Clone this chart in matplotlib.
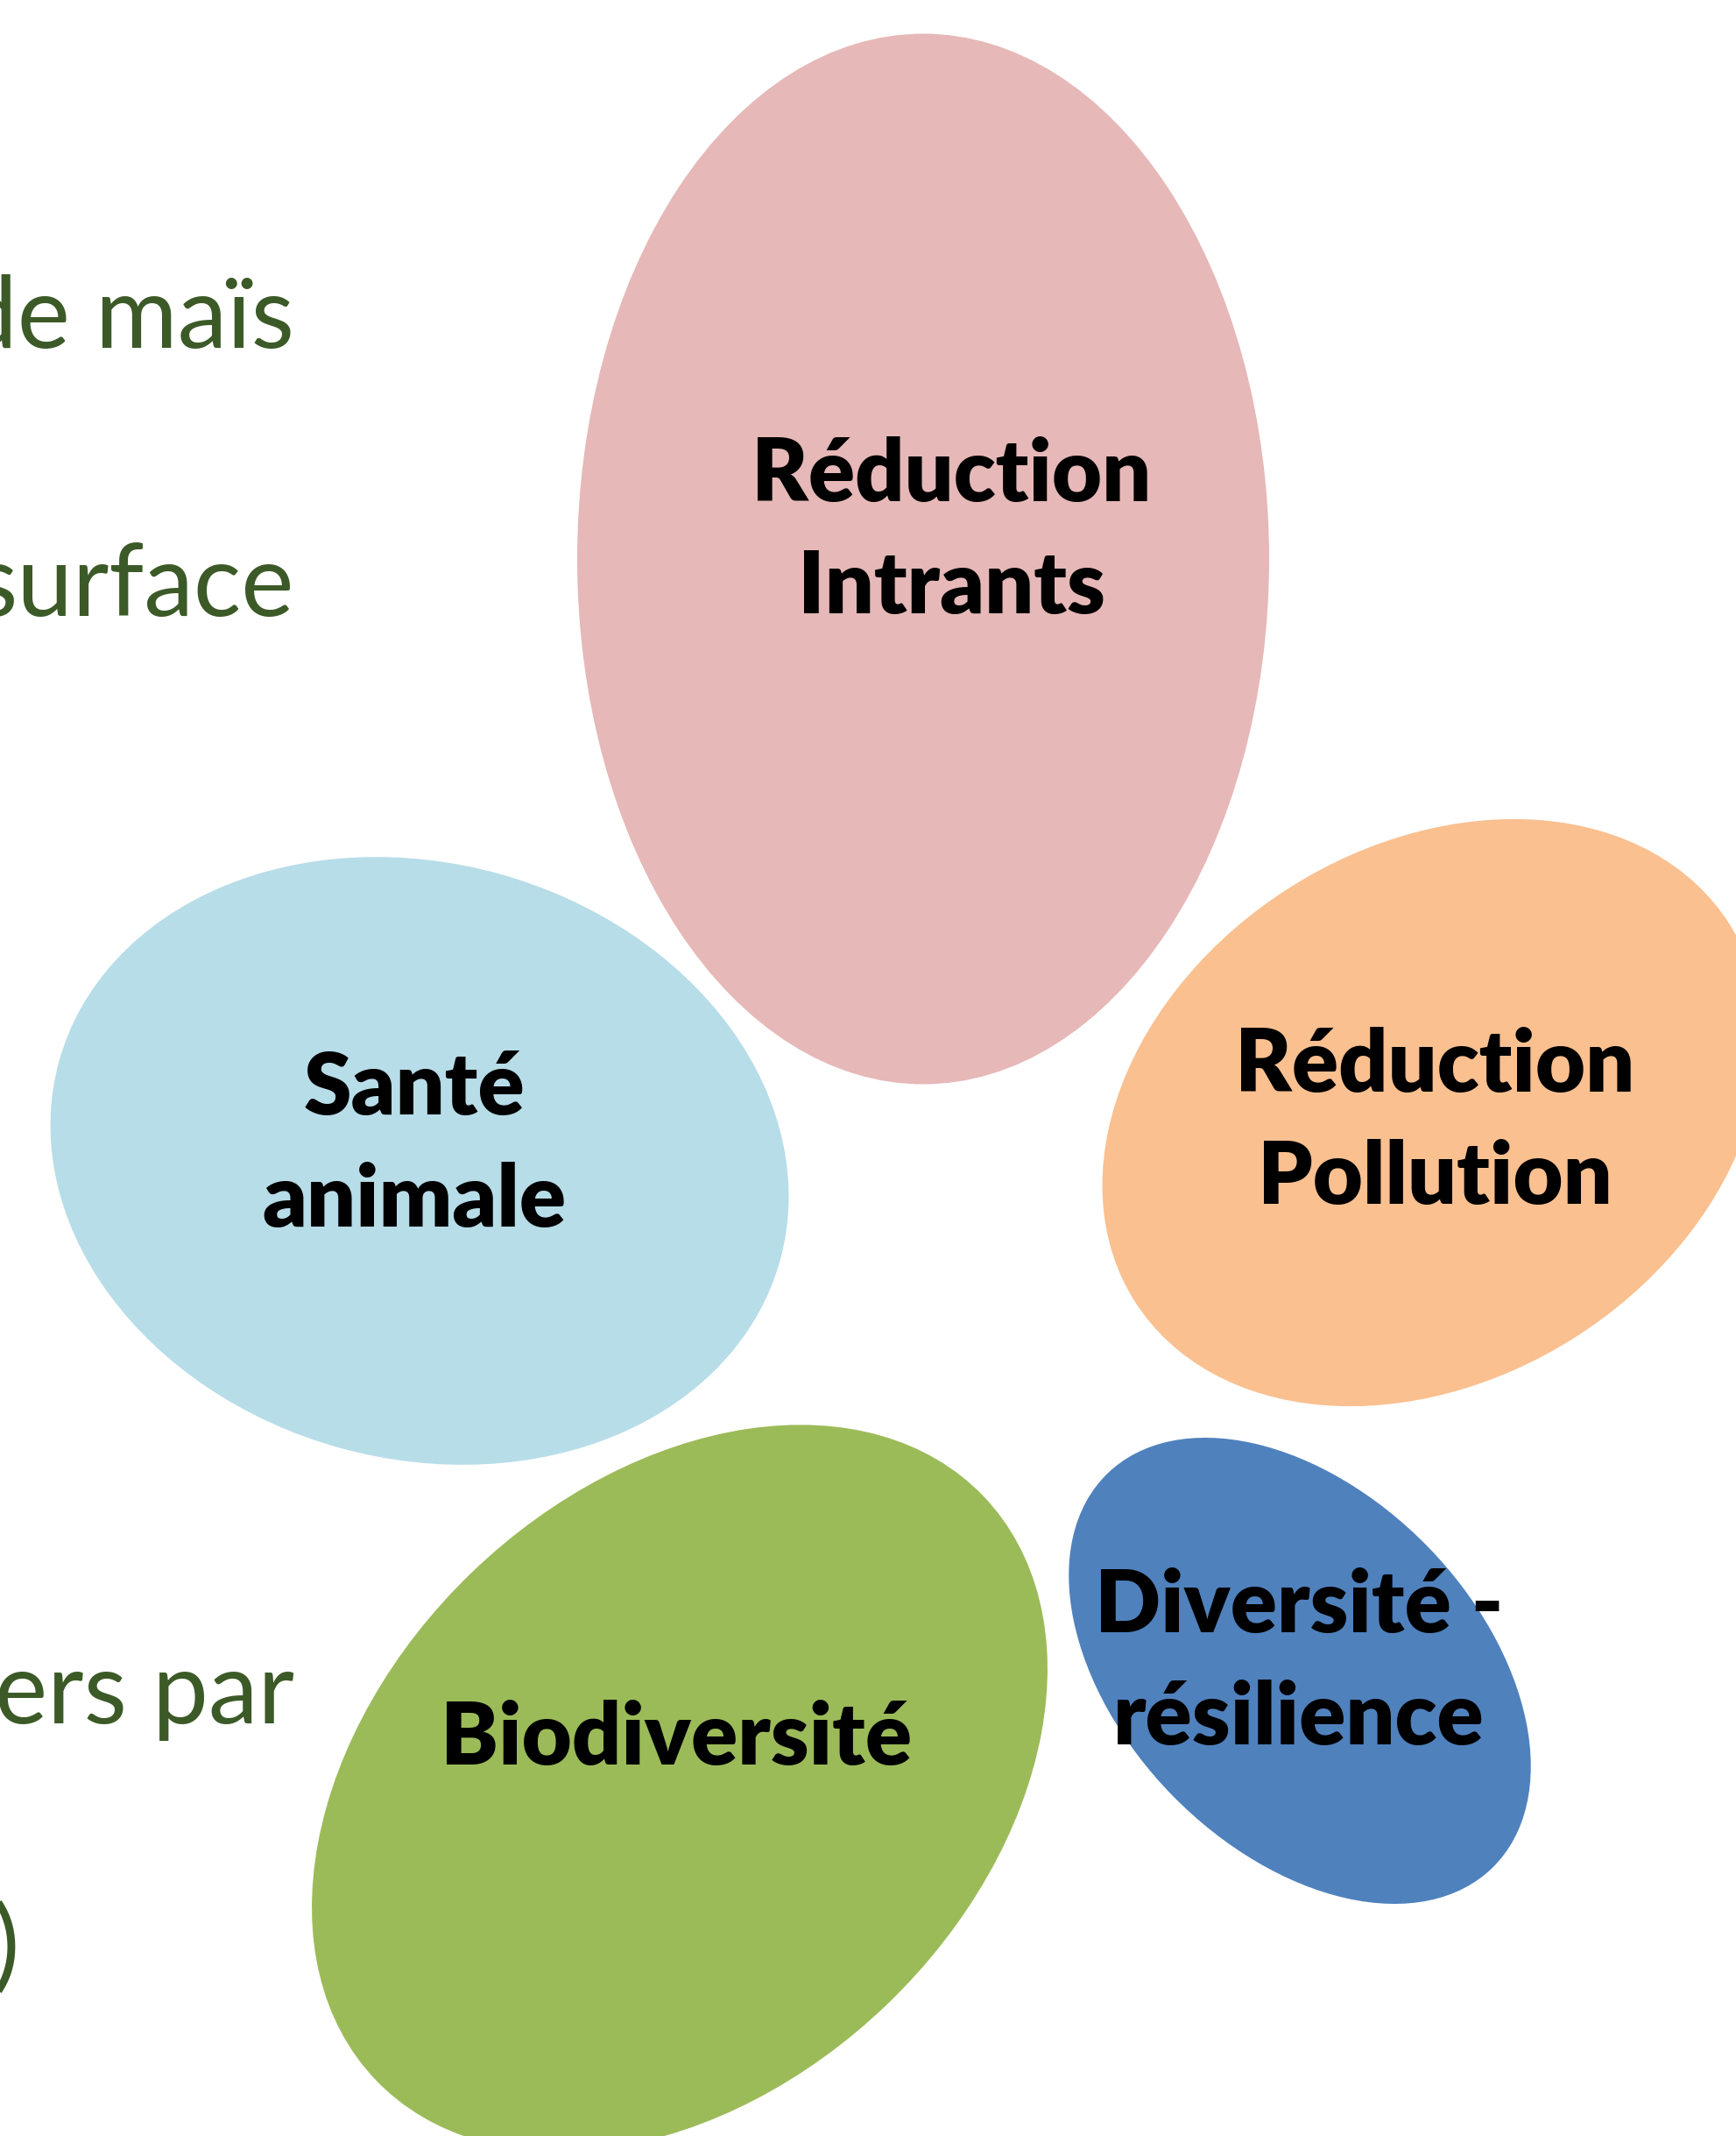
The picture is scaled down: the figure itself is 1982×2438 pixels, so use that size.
import matplotlib
matplotlib.use("Agg")
import matplotlib.pyplot as plt
from matplotlib.patches import Ellipse

W, H = 1983, 2438

# petals: label lines, centre (px), full axes (px), tilt (deg, y down)
petal_labels = [["Réduction", "Intrants"], ["Santé", "animale"],
                ["Réduction", "Pollution"], ["Biodiversité"],
                ["Diversité -", "résilience"]]
petal_x = [1054, 479, 1635, 776, 1484]
petal_y = [638, 1325, 1270, 2041, 1907]
petal_w = [790, 854, 804, 962, 629]
petal_h = [1199, 680, 608, 684, 407]
petal_angle = [0, 15.4, -32.4, -43.9, 45.6]
petal_colors = ["#E6B8B7", "#B7DDE8", "#FAC090", "#9BBB59", "#4F81BD"]

# label placement (baseline of first line, centre x)
label_x = [1086, 473, 1638, 772, 1483]
label_y = [572, 1272, 1246, 2014, 1863]
line_step = 128

# clipped side text at left
side_text = ["de maïs", "surface", "ers par", ")"]
side_right = [336, 336, 336, 22]
side_base = [397, 703, 1967, 2258]

fig = plt.figure(figsize=(W / 100, H / 100), dpi=100)
ax = fig.add_axes([0, 0, 1, 1])
ax.set_xlim(0, W)
ax.set_ylim(H, 0)
ax.axis("off")

for i in range(len(petal_labels)):
    e = Ellipse((petal_x[i], petal_y[i]), petal_w[i], petal_h[i],
                angle=petal_angle[i], facecolor=petal_colors[i],
                edgecolor="none")
    ax.add_patch(e)
    for j, line in enumerate(petal_labels[i]):
        ax.text(label_x[i], label_y[i] + j * line_step, line,
                ha="center", va="baseline", fontsize=71,
                fontweight="heavy", family="Lato", color="black")

for t, xr, yb in zip(side_text, side_right, side_base):
    ax.text(xr, yb, t, ha="right", va="baseline", fontsize=82,
            family="Lato", color="#3C5A27")

fig.savefig("out.png", dpi=100)
